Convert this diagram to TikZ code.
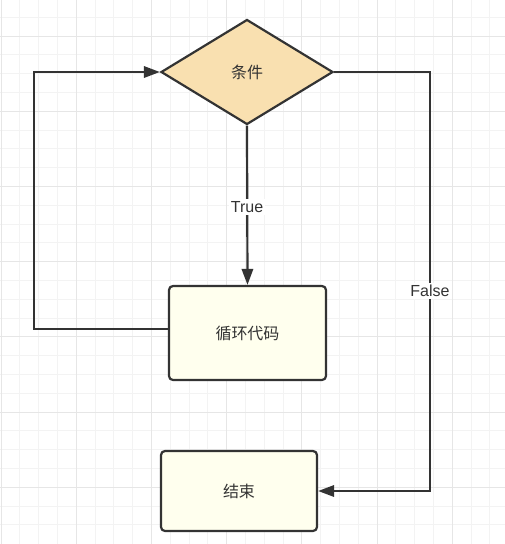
\documentclass[tikz,border=0pt]{standalone}
\usepackage{fontspec}
\setmainfont{Liberation Sans}
\newfontfamily\cjk{Noto Sans CJK SC}
\usetikzlibrary{shapes.geometric,arrows.meta}
\definecolor{edge}{HTML}{333333}
\definecolor{condfill}{HTML}{F9E0B0}
\definecolor{boxfill}{HTML}{FFFFEE}
\definecolor{gridminor}{HTML}{F3F3F3}
\definecolor{gridmajor}{HTML}{E6E6E6}
\tikzset{
  px/.style={x=0.75pt,y=-0.75pt},
  cond/.style={diamond,draw=edge,fill=condfill,line width=1.65pt,minimum width=129pt,minimum height=78.75pt,inner sep=0pt,font=\cjk\fontsize{12}{14}\selectfont,text=edge},
  stepbox/.style={rectangle,rounded corners=3pt,draw=edge,fill=boxfill,line width=1.65pt,inner sep=0pt,font=\cjk\fontsize{12}{14}\selectfont,text=edge},
  flow/.style={draw=edge,line width=1.65pt,-{Triangle[length=12pt,width=8.5pt]}},
  lbl/.style={fill=white,inner sep=1.5pt,font=\fontsize{12}{14}\selectfont,text=edge}
}
\begin{document}
\begin{tikzpicture}[px]
\useasboundingbox (0,0) rectangle (505,544);
\fill[white] (0,0) rectangle (505,544);
% grid minor
\foreach \i in {0,...,26} {
  \draw[gridminor,line width=0.75pt] ({1+18.8*\i},0) -- ({1+18.8*\i},544);
}
\foreach \i in {0,...,28} {
  \draw[gridminor,line width=0.75pt] (0,{-1.6+18.8*\i}) -- (505,{-1.6+18.8*\i});
}
% grid major
\foreach \i in {0,...,6} {
  \draw[gridmajor,line width=0.75pt] ({1+75.2*\i},0) -- ({1+75.2*\i},544);
}
\foreach \i in {0,...,6} {
  \draw[gridmajor,line width=0.75pt] (0,{36+75.2*\i}) -- (505,{36+75.2*\i});
}

% nodes
\node[cond] (cond) at (247,72) {条件};
\node[stepbox,minimum width=117.75pt,minimum height=70.5pt] (loop) at (247.5,333) {循环代码};
\node[stepbox,minimum width=117pt,minimum height=60pt] (end) at (239,491) {结束};

\coordinate (lc) at (34,329);
\coordinate (rc) at (430,72);

% connectors
\draw[flow] (cond.south) -- (loop.north);
\node[lbl] (t) at (247,207) {True};
\draw[flow] ([yshift=3pt]loop.west) -- (lc) |- (cond.west);
\draw[flow] (cond.east) -- (rc) |- (end.east);
\node[lbl] (f) at (430,291) {False};
\end{tikzpicture}
\end{document}
